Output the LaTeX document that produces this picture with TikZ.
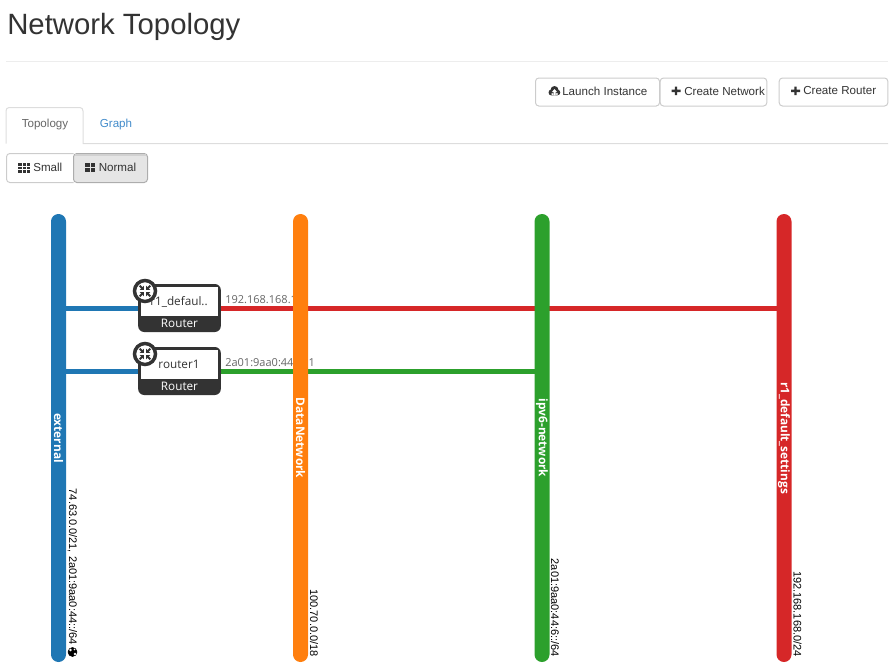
\documentclass[tikz,border=0pt]{standalone}
\usepackage{fontspec}
\setmainfont{Liberation Sans}
\newfontfamily\nodefont{Open Sans}
\usetikzlibrary{positioning}
\pgfdeclarelayer{links}
\pgfsetlayers{links,main}
\definecolor{netblue}{HTML}{1F77B4}
\definecolor{netorange}{HTML}{FF7F0E}
\definecolor{netgreen}{HTML}{2CA02C}
\definecolor{netred}{HTML}{D62728}
\definecolor{inkdark}{HTML}{333333}
\definecolor{btnline}{HTML}{CCCCCC}
\definecolor{tabline}{HTML}{DDDDDD}
\definecolor{linkblue}{HTML}{428BCA}
\tikzset{
	netbar/.style={rotate=-90,minimum width=336pt,minimum height=11.25pt,inner sep=0pt,rounded corners=5.6pt,text=white,font=\nodefont\fontsize{8.9}{9}\selectfont\bfseries},
	cidr/.style={rotate=-90,anchor=east,inner sep=0pt,font=\fontsize{8.25}{9}\selectfont,text=black},
	netlink/.style={line width=3.75pt},
	routerbox/.style={minimum width=62pt,minimum height=36pt,inner sep=0pt,fill=inkdark,rounded corners=4.5pt},
	routerlabel/.style={inner sep=0pt,font=\nodefont\fontsize{8.8}{9}\selectfont},
	iplabel/.style={anchor=west,inner sep=0pt,font=\nodefont\fontsize{8.25}{9}\selectfont,text=black!60},
	btn/.style={draw=btnline,line width=0.75pt,rounded corners=2.5pt,minimum height=21pt,inner sep=0pt},
	btntext/.style={inner sep=0pt,font=\fontsize{8.7}{9}\selectfont,text=inkdark},
	icon/.style={fill=inkdark,draw=none}
}
\begin{document}
\begin{tikzpicture}[x=0.75pt,y=-0.75pt]
		\useasboundingbox (0,0) rectangle (895,671);
		\node [anchor=west,inner sep=0pt,font=\fontsize{22}{22}\selectfont,text=inkdark] (title) at (7,27) {Network Topology};
		\draw [black!7,line width=0.75pt] (6,61.5) to (888,61.5); % rule
		% buttons
		\node [btn,minimum width=93pt] (launch) at (597.5,92) {};
		\node [btn,minimum width=80pt] (createnet) at (713.5,92) {};
		\node [btn,minimum width=81.5pt] (createrouter) at (833.5,92) {};
		\node [btntext,anchor=west] (launchtext) at (562,91) {Launch Instance};
		\node [btntext,anchor=west] (createnettext) at (684,91) {Create Network};
		\node [btntext,anchor=west] (createroutertext) at (803,91) {Create Router};
		\fill [icon] (551.5,92.5) circle [radius=3] (554.5,90) circle [radius=4] (557.5,92.5) circle [radius=2.8] (551.5,91) rectangle (557.5,95.4);
		\fill [white] (553.5,95.4) rectangle (555.5,92) (551.8,92.2) -- (557.2,92.2) -- (554.5,89) -- cycle;
		\fill [icon] (671.5,89.5) rectangle (680.5,92) (674.8,86.5) rectangle (677.2,95);
		\fill [icon] (791,89.5) rectangle (800,92) (794.3,86.5) rectangle (796.7,95);
		% tabs
		\draw [tabline,line width=0.75pt] (6,143.5) to (6,111) to [out=90,in=180] (9,107.5) to (80,107.5) to [out=0,in=90] (83,111) to (83,143.5) to (888,143.5);
		\node [btntext,text=black!60] (tabtopology) at (45,124) {Topology};
		\node [btntext,text=linkblue] (tabgraph) at (116,124) {Graph};
		% size switch
		\draw [btnline,line width=0.75pt,rounded corners=2.5pt] (73.5,153.5) -- (6.5,153.5) -- (6.5,182.5) -- (73.5,182.5);
		\draw [fill=black!10,draw=black!32,line width=0.75pt,rounded corners=2.5pt] (73.5,153.5) -- (147.5,153.5) -- (147.5,182.5) -- (73.5,182.5) -- cycle;
		\draw [black!18,line width=1pt] (75,155) to (146,155);
		\node [btntext,anchor=west] (smalltext) at (33,167) {Small};
		\node [btntext,anchor=west] (normaltext) at (98.5,167) {Normal};
		\foreach \i in {0,1,2} \foreach \j in {0,1,2}
			\fill [icon] (18.3+\i*4.2,163+\j*3.6) rectangle +(3.4,2.8);
		\foreach \i in {0,1} \foreach \j in {0,1}
			\fill [icon] (85+\i*5.6,163+\j*5) rectangle +(4.8,4.2);
		% networks
		\node [netbar,fill=netblue] (external) at (58.5,438) {external};
		\node [netbar,fill=netorange] (datanetwork) at (300.5,438) {DataNetwork};
		\node [netbar,fill=netgreen] (ipvsix) at (542,438) {ipv6-network};
		\node [netbar,fill=netred] (settings) at (784,438) {r1\_default\_settings};
		\node [cidr] (externalcidr) at (72.5,645) {74.63.0.0/21, 2a01:9aa0:44::/64};
		\node [cidr] (datacidr) at (314,657) {100.70.0.0/18};
		\node [cidr] (ipvsixcidr) at (555,657) {2a01:9aa0:44:6::/64};
		\node [cidr] (settingscidr) at (797.5,657) {192.168.168.0/24};
		\draw [black,fill] (72.5,652) circle [radius=4.5]; % globe
		\fill [white] (70.5,650) circle [radius=1.3] (75,654) circle [radius=1.4] (74.5,649.5) circle [radius=0.8];
		% routers
		\node [routerbox] (rdefault) at (179.5,308) {};
		\fill [white] (141,287) rectangle (218,316);
		\node [routerlabel,text=inkdark] (rdefaultname) at (179,301.5) {r1\_defaul..};
		\node [routerlabel,text=white] (rdefaulttype) at (179.5,323.5) {Router};
		\node [routerbox] (rone) at (179.5,371) {};
		\fill [white] (141,350) rectangle (218,379);
		\node [routerlabel,text=inkdark] (ronename) at (179,364.5) {router1};
		\node [routerlabel,text=white] (ronetype) at (179.5,386.5) {Router};
		\foreach \cy in {291,354} {
			\draw [inkdark,fill=white,line width=2.6pt] (145,\cy) circle [radius=10.5];
			\foreach \a in {45,135,225,315} {
				\begin{scope}[shift={(145,\cy)},rotate=\a]
					\draw [inkdark,line width=1.5pt] (3.5,0) to (7.5,0);
					\fill [inkdark] (4.5,-3) -- (4.5,3) -- (1.5,0) -- cycle;
				\end{scope}
			}
		}
		% links
		\begin{pgfonlayer}{links}
			\node [iplabel] (rdefaultip) at (225,300) {192.168.168.1};
			\node [iplabel] (roneip) at (225,363) {2a01:9aa0:44:6::1};
			\draw [netlink,netblue] (external |- rdefault) to (rdefault);
			\draw [netlink,netblue] (external |- rone) to (rone);
			\draw [netlink,netred] (rdefault) to (rdefault -| settings);
			\draw [netlink,netgreen] (rone) to (rone -| ipvsix);
		\end{pgfonlayer}
		\end{tikzpicture}
\end{document}
